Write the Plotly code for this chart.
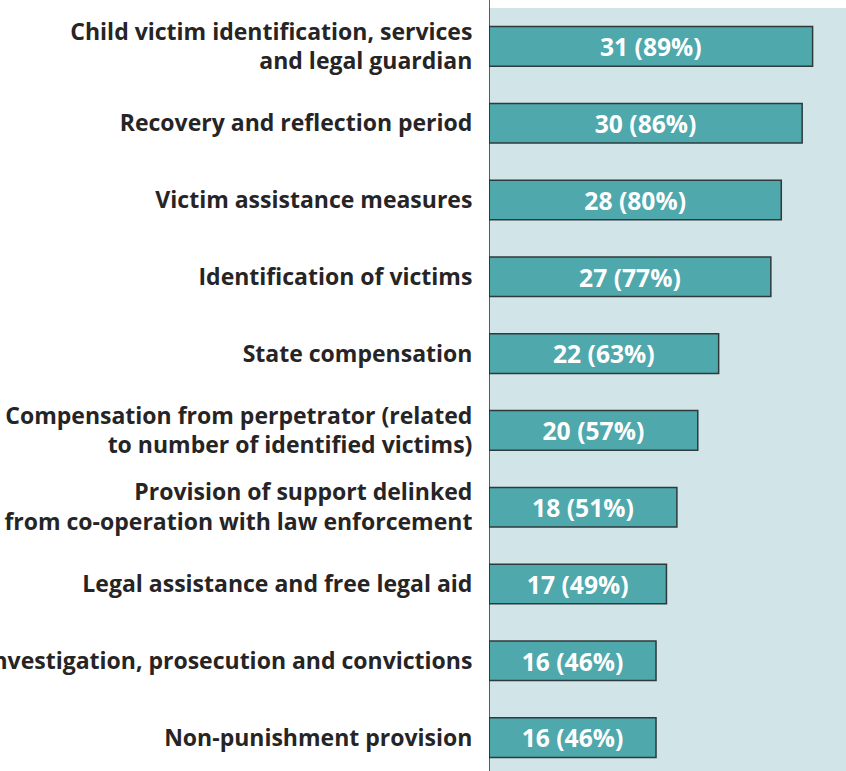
import plotly.graph_objects as go

categories = [
    "Child victim identification, services<br>and legal guardian",
    "Recovery and reflection period",
    "Victim assistance measures",
    "Identification of victims",
    "State compensation",
    "Compensation from perpetrator (related<br>to number of identified victims)",
    "Provision of support delinked<br>from co-operation with law enforcement",
    "Legal assistance and free legal aid",
    "Investigation, prosecution and convictions",
    "Non-punishment provision",
]
counts = [31, 30, 28, 27, 22, 20, 18, 17, 16, 16]
percents = [89, 86, 80, 77, 63, 57, 51, 49, 46, 46]

labels = [f"{c} ({p}%)" for c, p in zip(counts, percents)]

FONT = "Open Sans"
TEXT_COLOR = "#262425"

fig = go.Figure(
    go.Bar(
        y=categories,
        x=counts,
        orientation="h",
        text=labels,
        textposition="inside",
        insidetextanchor="middle",
        textangle=0,
        textfont=dict(family=FONT, size=25, color="white", weight="bold"),
        marker=dict(color="#4ea8ac", line=dict(color="#2e3a3c", width=1.5)),
        width=0.515,
        hoverinfo="skip",
    )
)

plot_h = 771 - 8
fig.update_layout(
    width=846,
    height=771,
    margin=dict(l=489, r=0, t=8, b=0, autoexpand=False),
    paper_bgcolor="white",
    plot_bgcolor="#d1e4e7",
    showlegend=False,
    uniformtext=dict(mode="show", minsize=8),
)
fig.update_xaxes(
    range=[0, 34.2],
    showgrid=False,
    zeroline=False,
    showticklabels=False,
    ticks="",
    showline=False,
    fixedrange=True,
)
fig.update_yaxes(
    type="category",
    categoryorder="array",
    categoryarray=categories,
    range=[-0.5 + plot_h / 76.8, -0.5],
    showgrid=False,
    zeroline=False,
    ticks="outside",
    ticklen=11,
    tickcolor="rgba(0,0,0,0)",
    tickfont=dict(family=FONT, size=23, color=TEXT_COLOR, weight="bold"),
    showline=False,
    automargin=False,
    fixedrange=True,
)
fig.add_shape(
    type="line",
    xref="x",
    yref="paper",
    x0=0,
    x1=0,
    y0=0,
    y1=1 + 8 / plot_h,
    line=dict(color="#2e2e2e", width=1.5),
    layer="above",
)

fig.write_html(
    "out.html",
    config={"displayModeBar": False},
    post_script="document.body.style.margin='0';document.body.style.overflow='hidden';",
)
